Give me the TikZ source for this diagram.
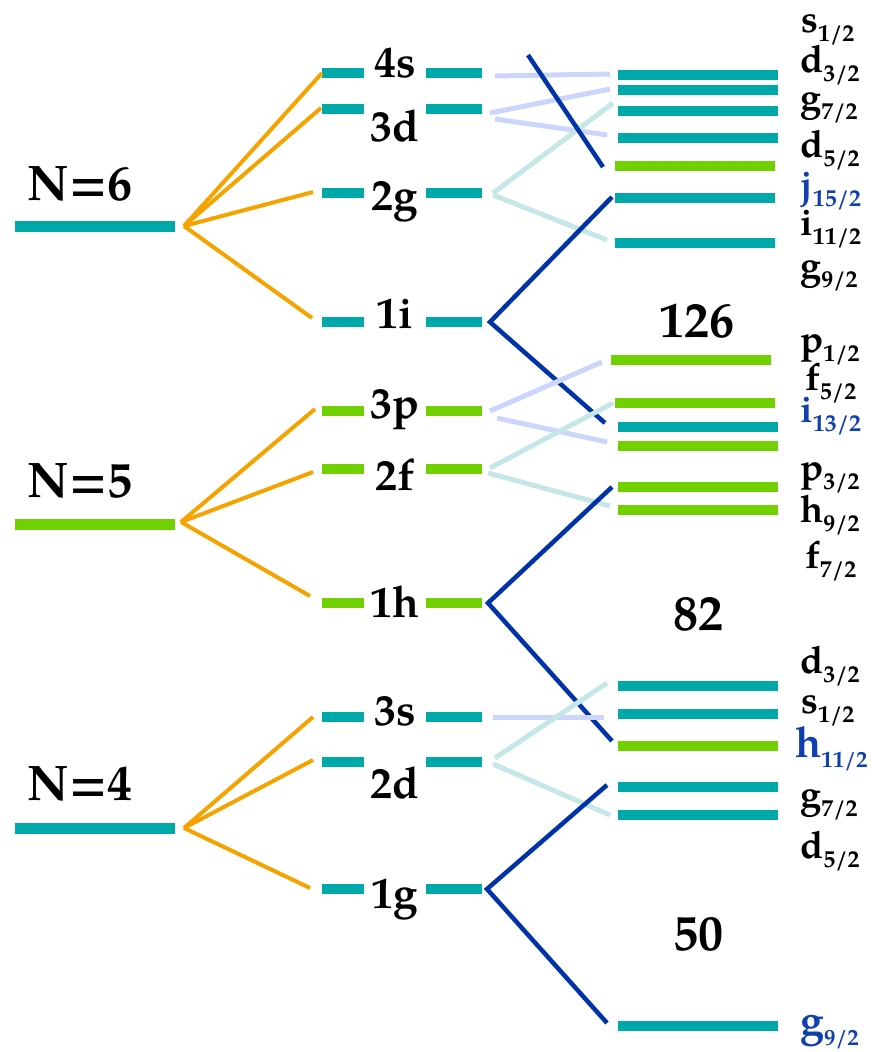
\documentclass[tikz,border=0pt]{standalone}
\usepackage{fontspec}
\setmainfont{texgyrepagella}[Extension=.otf,UprightFont=*-regular,BoldFont=*-bold,ItalicFont=*-italic,BoldItalicFont=*-bolditalic]
\definecolor{cteal}{HTML}{00A9A9}
\definecolor{cgreen}{HTML}{70D000}
\definecolor{corange}{HTML}{F4A300}
\definecolor{cdblue}{HTML}{0033A8}
\definecolor{clav}{HTML}{CCD6FC}
\definecolor{clteal}{HTML}{C5E7E7}
\definecolor{ctext}{HTML}{1040B0}
\newcommand{\jl}[2]{{\fontsize{38}{38}\selectfont\bfseries #1}\raisebox{-9pt}{\fontsize{24}{24}\selectfont\bfseries #2}}
\newcommand{\jlb}[2]{{\fontsize{43}{43}\selectfont\bfseries #1}\raisebox{-10pt}{\fontsize{23}{23}\selectfont\bfseries #2}}
\begin{document}
\begin{tikzpicture}[x=1pt,y=-1pt,
  bar/.style={line width=10pt},
  nbar/.style={line width=11pt},
  splitline/.style={line width=4pt,color=corange},
  soline/.style={line width=4.5pt,color=cdblue},
  lavline/.style={line width=5pt,color=clav},
  ltline/.style={line width=5pt,color=clteal},
  big/.style={font=\fontsize{50}{50}\selectfont\bfseries,anchor=base,inner sep=0pt},
  orb/.style={font=\fontsize{44}{44}\selectfont\bfseries,anchor=base,inner sep=0pt},
  jlab/.style={anchor=base west,inner sep=0pt}]
\useasboundingbox (0,0) rectangle (871,1052);

% ---------- oscillator shells ----------
\draw[nbar,cteal]  (15,226) -- (175,226);
\draw[nbar,cgreen] (15,524) -- (175,524);
\draw[nbar,cteal]  (15,828) -- (175,828);
\node[big] (N6) at (80,200) {N=6};
\node[big] (N5) at (80,497) {N=5};
\node[big] (N4) at (80,800) {N=4};

% ---------- orbitals (l-splitting) ----------
\foreach \y/\c in {73/cteal,109/cteal,193/cteal,322/cteal,411/cgreen,469/cgreen,603/cgreen,717/cteal,762/cteal,889/cteal}{
  \draw[bar,\c] (322,\y) -- (364,\y);
  \draw[bar,\c] (426,\y) -- (482,\y);
}
\node[orb] (o4s) at (395,77) {4s};
\node[orb] (o3d) at (395,141) {3d};
\node[orb] (o2g) at (395,210) {2g};
\node[orb] (o1i) at (395,328) {1i};
\node[orb] (o3p) at (395,418) {3p};
\node[orb] (o2f) at (395,490) {2f};
\node[orb] (o1h) at (395,617) {1h};
\node[orb] (o3s) at (395,725) {3s};
\node[orb] (o2d) at (395,798) {2d};
\node[orb] (o1g) at (395,908) {1g};

% split vertices and ends
\coordinate (v6) at (184,226);
\coordinate (v5) at (181,522);
\coordinate (v4) at (184,828);
\coordinate (e4s) at (322,73);
\coordinate (e3d) at (321,108);
\coordinate (e2g) at (313,192);
\coordinate (e1i) at (312,318);
\coordinate (e3p) at (315,409);
\coordinate (e2f) at (313,472);
\coordinate (e1h) at (310,596);
\coordinate (e3s) at (313,717);
\coordinate (e2d) at (313,760);
\coordinate (e1g) at (310,888);
\foreach \v/\e in {v6/e4s,v6/e3d,v6/e2g,v6/e1i,v5/e3p,v5/e2f,v5/e1h,v4/e3s,v4/e2d,v4/e1g}
  \draw[splitline] (\v) -- (\e);

% ---------- spin-orbit levels ----------
\foreach \y/\c in {75/cteal,90/cteal,111/cteal,138/cteal,427/cteal,446/cgreen,487/cgreen,510/cgreen,686/cteal,714/cteal,746/cgreen,787/cteal,815/cteal,1026/cteal}
  \draw[bar,\c] (618,\y) -- (778,\y);
\draw[bar,cgreen] (615,166) -- (775,166);
\draw[bar,cteal]  (615,198) -- (775,198);
\draw[bar,cteal]  (615,243) -- (775,243);
\draw[bar,cgreen] (611,360) -- (771,360);
\draw[bar,cgreen] (615,403) -- (775,403);

% connectors
\coordinate (a4s) at (495,76);   \coordinate (b4s) at (610,74);
\draw[lavline] (a4s) -- (b4s);
\coordinate (a3d) at (490,113);  \coordinate (b3d) at (610,89);
\coordinate (c3d) at (495,119);  \coordinate (d3d) at (607,135);
\draw[lavline] (a3d) -- (b3d);
\draw[lavline] (c3d) -- (d3d);
\coordinate (a2g) at (493,193);  \coordinate (b2g) at (613,103);
\coordinate (c2g) at (493,195);  \coordinate (d2g) at (607,240);
\draw[ltline] (a2g) -- (b2g);
\draw[ltline] (c2g) -- (d2g);
\coordinate (a1j) at (528,55);   \coordinate (b1j) at (603,167);
\draw[soline] (a1j) -- (b1j);
\coordinate (a1i) at (490,322);  \coordinate (b1i) at (612,197);
\coordinate (c1i) at (605,423);
\draw[soline] (b1i) -- (a1i) -- (c1i);
\coordinate (a3p) at (490,411);  \coordinate (b3p) at (602,362);
\coordinate (c3p) at (497,418);  \coordinate (d3p) at (607,442);
\draw[lavline] (a3p) -- (b3p);
\draw[lavline] (c3p) -- (d3p);
\coordinate (a2f) at (490,468);  \coordinate (b2f) at (613,403);
\coordinate (c2f) at (488,473);  \coordinate (d2f) at (610,506);
\draw[ltline] (a2f) -- (b2f);
\draw[ltline] (c2f) -- (d2f);
\coordinate (a1h) at (488,603);  \coordinate (b1h) at (612,487);
\coordinate (c1h) at (612,741);
\draw[soline] (b1h) -- (a1h) -- (c1h);
\coordinate (a3s) at (493,717);  \coordinate (b3s) at (604,717);
\draw[lavline] (a3s) -- (b3s);
\coordinate (a2d) at (495,758);  \coordinate (b2d) at (607,683);
\coordinate (c2d) at (493,764);  \coordinate (d2d) at (610,815);
\draw[ltline] (a2d) -- (b2d);
\draw[ltline] (c2d) -- (d2d);
\coordinate (a1g) at (487,889);  \coordinate (b1g) at (607,785);
\coordinate (c1g) at (607,1023);
\draw[soline] (b1g) -- (a1g) -- (c1g);

% magic numbers
\node[big] (m126) at (697,337) {126};
\node[big] (m82)  at (698,630) {82};
\node[big] (m50)  at (698,950) {50};

% level labels
\node[jlab] (l1) at (801,32)  {\jl{s}{1/2}};
\node[jlab] (l2) at (800,72)  {\jl{d}{3/2}};
\node[jlab] (l3) at (800,110) {\jl{g}{7/2}};
\node[jlab] (l4) at (800,157) {\jl{d}{5/2}};
\node[jlab,text=ctext] (l5) at (800,197) {\jl{j}{15/2}};
\node[jlab] (l6) at (800,235) {\jl{i}{11/2}};
\node[jlab] (l7) at (800,278) {\jl{g}{9/2}};
\node[jlab] (l8) at (800,352) {\jl{p}{1/2}};
\node[jlab] (l9) at (805,390) {\jl{f}{5/2}};
\node[jlab,text=ctext] (l10) at (800,422) {\jl{i}{13/2}};
\node[jlab] (l11) at (800,480) {\jl{p}{3/2}};
\node[jlab] (l12) at (800,522) {\jl{h}{9/2}};
\node[jlab] (l13) at (805,568) {\jl{f}{7/2}};
\node[jlab] (l14) at (800,673) {\jl{d}{3/2}};
\node[jlab] (l15) at (801,713) {\jl{s}{1/2}};
\node[jlab,text=ctext] (l16) at (795,757) {\jlb{h}{11/2}};
\node[jlab] (l17) at (800,807) {\jl{g}{7/2}};
\node[jlab] (l18) at (800,858) {\jl{d}{5/2}};
\node[jlab,text=ctext] (l19) at (800,1035) {\jlb{g}{9/2}};
\end{tikzpicture}
\end{document}
